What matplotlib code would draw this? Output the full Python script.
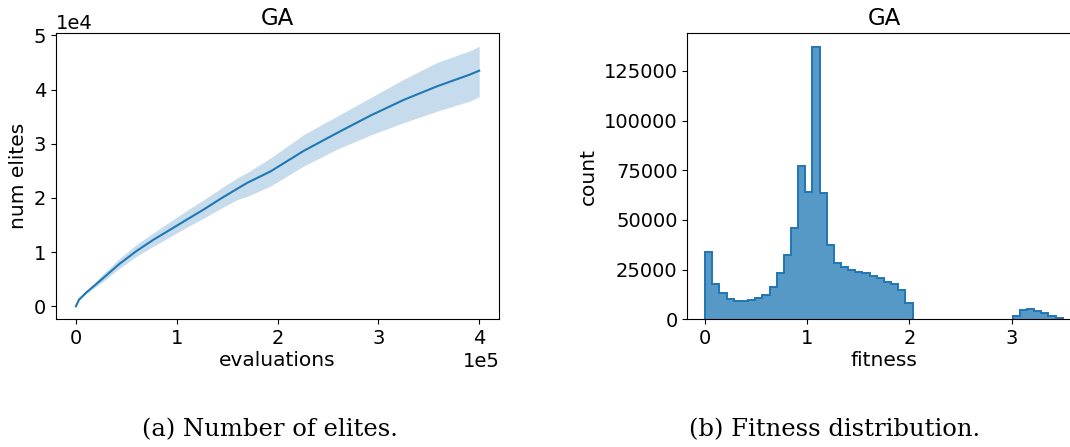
import numpy as np
import matplotlib
matplotlib.use('Agg')
import matplotlib.pyplot as plt

# Number of elites over evaluations (mean with spread across runs)
evaluations = [0, 3000, 10000, 27000, 43000, 60000, 77000, 94000, 110000,
               127000, 143000, 160000, 170000, 193000, 226000, 259000,
               292000, 325000, 358000, 391000, 400000]
elites_mean = [0, 1200, 2500, 5200, 7800, 10200, 12300, 14200, 16000,
               17900, 19800, 21700, 22800, 24900, 28700, 32000, 35200,
               38100, 40600, 42800, 43500]
elites_low = [0, 1100, 2300, 4600, 7000, 9200, 11100, 12900, 14600,
              16300, 18000, 19700, 20300, 22200, 25900, 29000, 31600,
              33900, 36000, 37900, 38700]
elites_high = [0, 1300, 2700, 6000, 8800, 11400, 13600, 15700, 17700,
               19700, 21700, 23700, 24700, 27400, 31700, 35100, 38500,
               41900, 45000, 47200, 48000]

# Fitness histogram: 50 bins between 0 and 3.5
fit_lo, fit_hi, n_bins = 0.0, 3.5, 50
fitness_counts = [33700, 17800, 13000, 10100, 9300, 9300, 9800, 10500,
                  12200, 16100, 23200, 32300, 45800, 77300, 64200, 137100,
                  63700, 37400, 28200, 26300, 24900, 23900, 23150, 22000,
                  20700, 19000, 17600, 14700, 8200,
                  0, 0, 0, 0, 0, 0, 0, 0, 0, 0, 0, 0, 0, 0,
                  1900, 4700, 5000, 4300, 3300, 1700, 700]

plt.rcParams['font.family'] = 'DejaVu Sans'
tick_size = 14
label_size = 14.5
title_size = 16.5

fig = plt.figure(figsize=(10.7, 4.47), dpi=100)

# left panel: elites over time
ax1 = fig.add_axes([0.0521, 0.2857, 0.4146, 0.6398])
ax1.fill_between(evaluations, elites_low, elites_high, color='C0',
                 alpha=0.25, lw=0)
ax1.plot(evaluations, elites_mean, color='C0', lw=1.5)
ax1.ticklabel_format(style='sci', axis='both', scilimits=(0, 0))
ax1.set_xticks([0, 100000, 200000, 300000, 400000])
ax1.set_yticks([0, 10000, 20000, 30000, 40000, 50000])
ax1.set_title('GA', fontsize=title_size)
ax1.set_xlabel('evaluations', fontsize=label_size, labelpad=2)
ax1.set_ylabel('num elites', fontsize=label_size, labelpad=4)
ax1.tick_params(labelsize=tick_size)
ax1.xaxis.get_offset_text().set_fontsize(tick_size)
ax1.yaxis.get_offset_text().set_fontsize(tick_size)

# right panel: fitness distribution (runs past the right edge)
ax2 = fig.add_axes([0.6423, 0.2857, 0.3676, 0.6398])
edges = np.linspace(fit_lo, fit_hi, n_bins + 1)
counts = np.array(fitness_counts)
ax2.stairs(counts, edges, fill=True, color='C0', alpha=0.75, lw=0)
# outline each non-empty cluster separately so nothing runs along zero
nonzero = np.flatnonzero(counts)
groups = np.split(nonzero, np.flatnonzero(np.diff(nonzero) > 1) + 1)
for g in groups:
    ax2.stairs(counts[g[0]:g[-1] + 1], edges[g[0]:g[-1] + 2], baseline=0,
               color='C0', lw=1.4)
ax2.set_xticks([0, 1, 2, 3])
ax2.set_yticks([0, 25000, 50000, 75000, 100000, 125000])
ax2.set_title('GA', fontsize=title_size)
ax2.set_xlabel('fitness', fontsize=label_size, labelpad=2)
ax2.set_ylabel('count', fontsize=label_size, labelpad=4)
ax2.tick_params(labelsize=tick_size)

# sub-figure captions
fig.text(0.2519, 0.038, '(a) Number of elites.', ha='center', va='center',
         family='DejaVu Serif', fontsize=17.5)
fig.text(0.7804, 0.038, '(b) Fitness distribution.', ha='center',
         va='center', family='DejaVu Serif', fontsize=17.5)

fig.savefig('out.png', dpi=100)
